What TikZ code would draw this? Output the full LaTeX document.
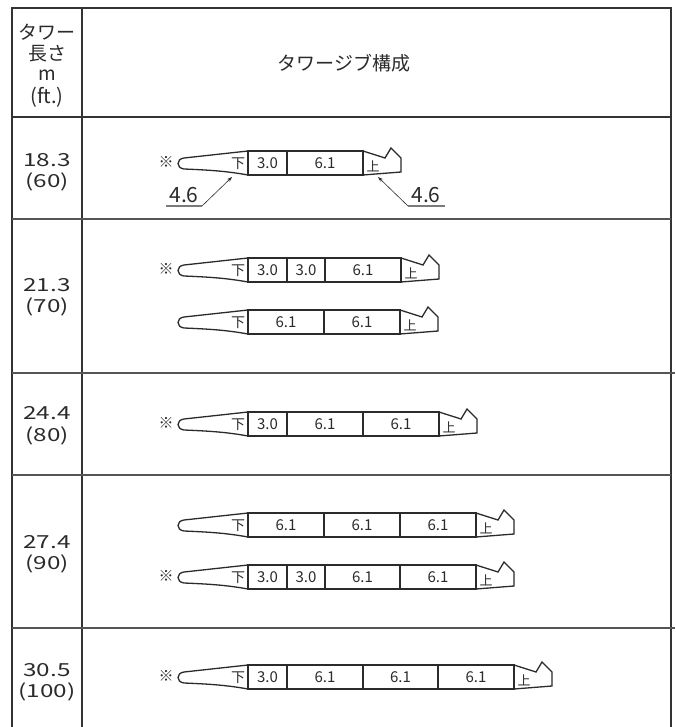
\documentclass[tikz,border=0pt]{standalone}
\usepackage{fontspec}
\usepackage{graphicx}
\setmainfont{Noto Sans CJK JP}
\usetikzlibrary{arrows.meta}
\definecolor{ink}{HTML}{2B2B2B}
\definecolor{rulec}{HTML}{333333}
\definecolor{rowc}{HTML}{555555}
\definecolor{ulgray}{HTML}{7A7A7A}
\newcommand\WideNum[1]{\scalebox{1.35}[1]{#1}}
\newcommand\JibNose[3]{%
  \draw[jibline] (#2,#3) -- (#2-64,#3+7) .. controls (#2-72,#3+8) and (#2-72,#3+17) .. (#2-64,#3+18) .. controls (#2-40,#3+19) and (#2-22,#3+20) .. (#2,#3+24);
  \node[jibchar] (#1low) at (#2-10,#3+13) {下};
}
\newcommand\JibTip[3]{%
  \draw[jibline] (#2,#3) -- (#2+22,#3+7) -- (#2+28,#3-3) -- (#2+38,#3+7) -- (#2+38,#3+21) -- (#2,#3+24);
  \node[jibchar, font=\fontsize{13}{13}\selectfont] (#1up) at (#2+10,#3+15) {上};
}
\newcommand\JibRow[4]{%
  \JibNose{#1}{248}{#2}
  \foreach \xa/\xb/\lab [count=\k] in {#3} {
    \node[seg, minimum width={(\xb-\xa)*1pt}, anchor=north west] (#1s\k) at (\xa,#2) {\lab};
  }
  \JibTip{#1}{#4}{#2}
}
\newcommand\StarMark[2]{\node[starmark] (#1star) at (166,#2+11) {※};}
\begin{document}
\begin{tikzpicture}[x=1pt,y=-1pt,
  jibline/.style={draw=ink, line width=1.3pt, line join=miter},
  jibchar/.style={inner sep=0pt, text=ink, font=\fontsize{14}{14}\selectfont},
  seg/.style={draw=ink, line width=1.3pt, rectangle, minimum height=24pt, inner sep=0pt, outer sep=0pt, text=ink, font=\fontsize{15}{15}\selectfont},
  starmark/.style={inner sep=0pt, text=ink, font=\fontsize{15}{15}\selectfont},
  hdr/.style={inner sep=0pt, text=ink, font=\fontsize{19}{19}\selectfont},
  rowlab/.style={inner sep=0pt, text=ink, font=\fontsize{18}{18}\selectfont},
  vrule/.style={draw=rulec, line width=2pt},
  hrule/.style={draw=rowc, line width=1.4pt},
  dimtxt/.style={inner sep=0pt, text=ink, font=\fontsize{21}{21}\selectfont},
  dimul/.style={draw=ulgray, line width=1.3pt},
  dimarrow/.style={draw=ink, line width=0.6pt, -{Stealth[length=5pt,width=3.5pt]}}
]
\useasboundingbox (0,0) rectangle (675,727);
\fill[white] (0,0) rectangle (675,727);
% table rules
\draw[vrule] (12,8) -- (12,727);
\draw[vrule] (82,8) -- (82,727);
\draw[vrule] (671,8) -- (671,727);
\draw[vrule] (11,8) -- (672,8);
\draw[vrule] (12,117) -- (671,117);
\draw[hrule] (12,219) -- (671,219);
\draw[hrule] (12,373) -- (675,373);
\draw[hrule] (12,475) -- (671,475);
\draw[hrule] (12,628) -- (675,628);
% header
\node[hdr] (h1) at (47,32) {タワー};
\node[hdr] (h2) at (47,54) {長さ};
\node[hdr] (h3) at (47,75) {m};
\node[hdr, font=\fontsize{20}{20}\selectfont] (h4) at (47,97) {(ft.)};
\node[hdr] (h5) at (344,63) {タワージブ構成};
% row labels
\node[rowlab] (r1a) at (47,160) {\WideNum{18.3}};
\node[rowlab] (r1b) at (47,182) {\WideNum{(60)}};
\node[rowlab] (r2a) at (47,285) {\WideNum{21.3}};
\node[rowlab] (r2b) at (47,307) {\WideNum{(70)}};
\node[rowlab] (r3a) at (47,413) {\WideNum{24.4}};
\node[rowlab] (r3b) at (47,436) {\WideNum{(80)}};
\node[rowlab] (r4a) at (47,542) {\WideNum{27.4}};
\node[rowlab] (r4b) at (47,564) {\WideNum{(90)}};
\node[rowlab] (r5a) at (47,670) {\WideNum{30.5}};
\node[rowlab] (r5b) at (47,692) {\WideNum{(100)}};
% jibs
\StarMark{ja}{151}
\JibRow{ja}{151}{248/287/3.0, 287/363/6.1}{363}
\StarMark{jb}{258}
\JibRow{jb}{258}{248/287/3.0, 287/325/3.0, 325/401/6.1}{401}
\JibRow{jc}{310}{248/324/6.1, 324/400/6.1}{400}
\StarMark{jd}{412}
\JibRow{jd}{412}{248/287/3.0, 287/363/6.1, 363/439/6.1}{439}
\JibRow{je}{513}{248/324/6.1, 324/400/6.1, 400/476/6.1}{476}
\StarMark{jf}{565}
\JibRow{jf}{565}{248/287/3.0, 287/325/3.0, 325/400/6.1, 400/476/6.1}{476}
\StarMark{jg}{665}
\JibRow{jg}{665}{248/287/3.0, 287/363/6.1, 363/438/6.1, 438/514/6.1}{514}
% 4.6 dimension callouts
\coordinate (ulLa) at (166,206);
\coordinate (ulLb) at (202,206);
\coordinate (tgL) at (232,177);
\coordinate (ulRa) at (408,206);
\coordinate (ulRb) at (445,206);
\coordinate (tgR) at (378,177);
\draw[dimul] (ulLa) -- (ulLb);
\draw[dimul] (ulRa) -- (ulRb);
\draw[dimarrow] (ulLb) -- (tgL);
\draw[dimarrow] (ulRa) -- (tgR);
\node[dimtxt] (dimL) at (184,195) {4.6};
\node[dimtxt] (dimR) at (426,195) {4.6};
\end{tikzpicture}
\end{document}
